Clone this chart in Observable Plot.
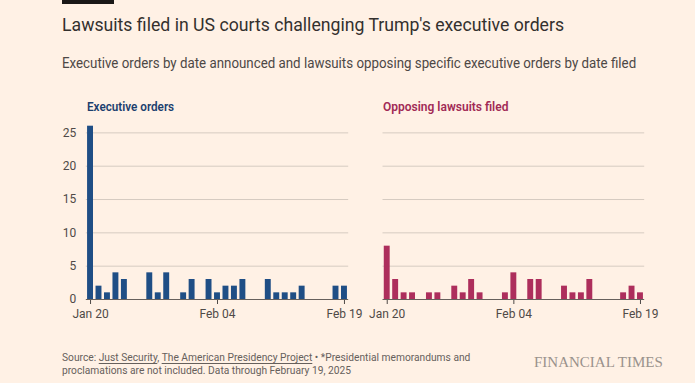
<!DOCTYPE html>
<html>
<head>
<meta charset="utf-8">
<script src="https://cdn.jsdelivr.net/npm/d3@7"></script>
<script src="https://cdn.jsdelivr.net/npm/@observablehq/plot@0.6"></script>
<style>
  html, body { margin: 0; padding: 0; background: #fff1e5; }
  #page { position: relative; width: 695px; height: 383px; overflow: hidden; background: #fff1e5; font-family: Roboto, "Noto Sans", sans-serif; }
  .abs { position: absolute; white-space: nowrap; transform-origin: 0 0; }
  #bar { left: 62px; top: 0; width: 52px; height: 4px; background: #1a1817; }
  #title { left: 62px; top: 15px; font-size: 19px; line-height: 19px; color: #33302e; transform: scaleX(0.93); }
  #subtitle { left: 62px; top: 56px; font-size: 14px; line-height: 14px; color: #4d4845; transform: scaleX(0.951); }
  .ptitle { top: 101px; font-size: 12px; line-height: 12px; font-weight: 600; }
  #pt1 { left: 87px; color: #1c3f6e; transform: scaleX(0.975); }
  #pt2 { left: 383px; color: #a12a55; }
  #foot { left: 62px; top: 351px; font-size: 11px; line-height: 13.3px; color: #66605c; transform: scaleX(0.93); }
  #foot u { text-decoration-thickness: 1px; text-underline-offset: 2px; }
  #ft { left: 534px; top: 355px; font-family: "Liberation Serif", "DejaVu Serif", serif; font-size: 15px; line-height: 15px; color: #9a928c; }
  #p1 { position: absolute; left: 0; top: 120px; }
  #p2 { position: absolute; left: 360px; top: 120px; }
</style>
</head>
<body>
<div id="page">
  <div id="bar" class="abs"></div>
  <div id="title" class="abs">Lawsuits filed in US courts challenging Trump's executive orders</div>
  <div id="subtitle" class="abs">Executive orders by date announced and lawsuits opposing specific executive orders by date filed</div>
  <div id="pt1" class="abs ptitle">Executive orders</div>
  <div id="pt2" class="abs ptitle">Opposing lawsuits filed</div>
  <div id="p1"></div>
  <div id="p2"></div>
  <div id="foot" class="abs">Source: <u>Just Security</u>, <u>The American Presidency Project</u> • *Presidential memorandums and<br>proclamations are not included. Data through February 19, 2025</div>
  <div id="ft" class="abs">FINANCIAL TIMES</div>
</div>
<script>
// Categories: one per day
const dates = [
  "2025-01-20","2025-01-21","2025-01-22","2025-01-23","2025-01-24","2025-01-25","2025-01-26",
  "2025-01-27","2025-01-28","2025-01-29","2025-01-30","2025-01-31","2025-02-01","2025-02-02",
  "2025-02-03","2025-02-04","2025-02-05","2025-02-06","2025-02-07","2025-02-08","2025-02-09",
  "2025-02-10","2025-02-11","2025-02-12","2025-02-13","2025-02-14","2025-02-15","2025-02-16",
  "2025-02-17","2025-02-18","2025-02-19"
];
// Series values
const executiveOrders = [26,2,1,4,3,0,0, 4,1,4,0,1,3,0, 3,1,2,2,3,0,0, 3,1,1,1,2,0,0, 0,2,2];
const lawsuits        = [8,3,1,1,0,1,1, 0,2,1,3,1,0,0, 1,4,0,3,3,0,0, 2,1,1,3,0,0,0, 1,2,1];
// Tick labels
const xTicks = ["2025-01-20","2025-02-04","2025-02-19"];
const yTicks = [0,5,10,15,20,25];
const gridTicks = [5,10,15,20,25];

const fmt = d => d3.utcFormat("%b %d")(new Date(d + "T00:00:00Z"));
const eoData = dates.map((d, i) => ({date: d, value: executiveOrders[i]}));
const lsData = dates.map((d, i) => ({date: d, value: lawsuits[i]}));

const common = {
  height: 210,
  marginTop: 5.7,
  marginBottom: 31,
  style: {fontSize: "12px", fontFamily: "Roboto, 'Noto Sans', sans-serif", color: "#4f4a47", background: "transparent", overflow: "visible"}
};
const xOpts = {type: "band", domain: dates, round: false, paddingInner: 0.3, paddingOuter: 0.15, ticks: xTicks, tickFormat: fmt, tickSize: 5, tickPadding: 5, label: null};

const p1 = Plot.plot({
  ...common,
  width: 360,
  marginLeft: 85.8,
  marginRight: 11.8,
  x: xOpts,
  y: {domain: [0, 26], ticks: yTicks, tickSize: 0, tickPadding: 10, label: null},
  marks: [
    Plot.ruleY(gridTicks, {stroke: "#d6cbc1", strokeWidth: 1}),
    Plot.barY(eoData, {x: "date", y: "value", fill: "#1f4e85"}),
    Plot.ruleY([0], {stroke: "#66605c", strokeWidth: 1})
  ]
});
document.getElementById("p1").appendChild(p1);

const p2 = Plot.plot({
  ...common,
  width: 300,
  marginLeft: 22.5,
  marginRight: 15.8,
  x: xOpts,
  y: {domain: [0, 26], axis: null},
  marks: [
    Plot.ruleY(gridTicks, {stroke: "#d6cbc1", strokeWidth: 1}),
    Plot.barY(lsData, {x: "date", y: "value", fill: "#ad2e5c"}),
    Plot.ruleY([0], {stroke: "#66605c", strokeWidth: 1})
  ]
});
document.getElementById("p2").appendChild(p2);
</script>
</body>
</html>
